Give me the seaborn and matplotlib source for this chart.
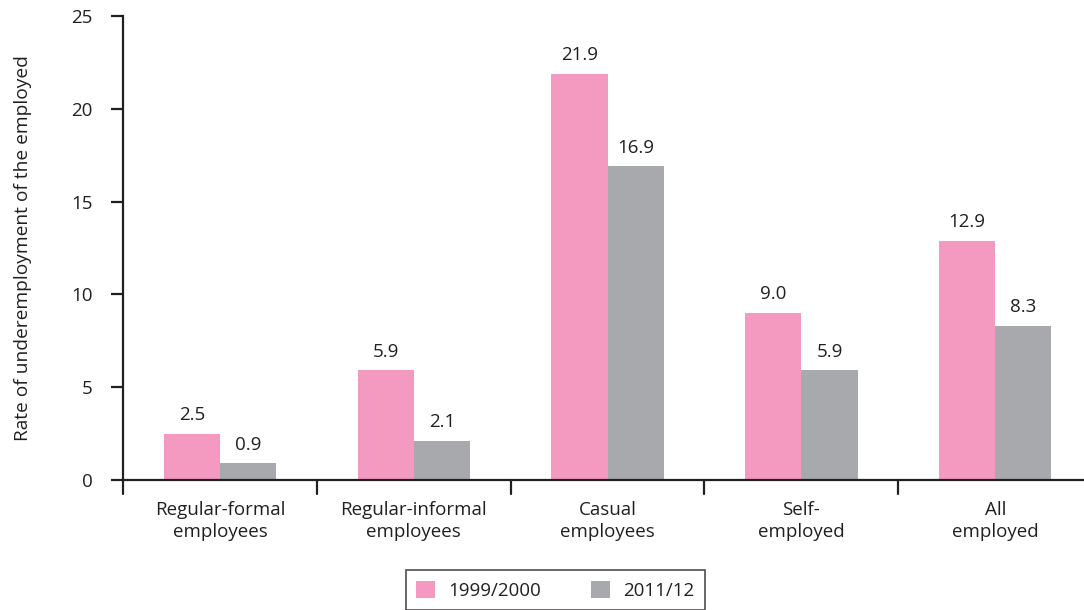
import matplotlib
matplotlib.use("Agg")
import matplotlib.pyplot as plt
import seaborn as sns
import pandas as pd

categories = ["Regular-formal\nemployees", "Regular-informal\nemployees", "Casual\nemployees",
              "Self-\nemployed", "All\nemployed"]
series_names = ["1999/2000", "2011/12"]
values_1999 = [2.5, 5.9, 21.9, 9.0, 12.9]
values_2011 = [0.9, 2.1, 16.9, 5.9, 8.3]
colors = ["#F49AC1", "#A7A9AC"]

df = pd.DataFrame({
    "category": categories * 2,
    "period": [series_names[0]] * 5 + [series_names[1]] * 5,
    "rate": values_1999 + values_2011,
})

sns.set_style("white")
plt.rcParams["font.family"] = ["Open Sans", "DejaVu Sans"]
plt.rcParams["text.color"] = "#231F20"
FS = 13.5
INK = "#231F20"

fig = plt.figure(figsize=(10.84, 6.10), dpi=100)
ax = fig.add_axes([0.1135, 0.2131, 0.894, 0.7607])

sns.barplot(data=df, x="category", y="rate", hue="period", palette=colors,
            width=0.58, gap=0, saturation=1, linewidth=0, ax=ax, legend=True)

for container in ax.containers:
    ax.bar_label(container, fmt="%.1f", padding=7, fontsize=FS, color=INK)

ax.set_ylim(0, 25)
ax.set_xlim(-0.5, 4.5)
ax.set_yticks([0, 5, 10, 15, 20, 25])
ax.set_xticks([0, 1, 2, 3, 4])
ax.set_xticklabels(categories, fontsize=FS, color=INK, linespacing=1.3)
ax.tick_params(axis="x", length=0, pad=15)
ax.tick_params(axis="y", labelsize=FS, length=9, width=1.6, color=INK,
               labelcolor=INK, pad=13, left=True)
# separators between category groups on the x axis
for b in [-0.5, 0.5, 1.5, 2.5, 3.5]:
    ax.plot([b, b], [0, -0.03], transform=ax.get_xaxis_transform(), clip_on=False,
            color=INK, lw=1.6)

ax.set_xlabel("")
ax.set_ylabel("Rate of underemployment of the employed", fontsize=13.8, color=INK,
              labelpad=28)

sns.despine(ax=ax)
for side in ["left", "bottom"]:
    ax.spines[side].set_color(INK)
    ax.spines[side].set_linewidth(1.6)

leg = ax.legend(loc="upper center", bbox_to_anchor=(0.446, -0.195), ncol=2,
                frameon=True, fancybox=False, fontsize=FS, handlelength=1.0,
                handleheight=1.0, columnspacing=2.7, borderpad=0.55, handletextpad=0.7,
                borderaxespad=0)
leg.get_frame().set_edgecolor(INK)
leg.get_frame().set_linewidth(1.2)

fig.savefig("out.png", dpi=100)
